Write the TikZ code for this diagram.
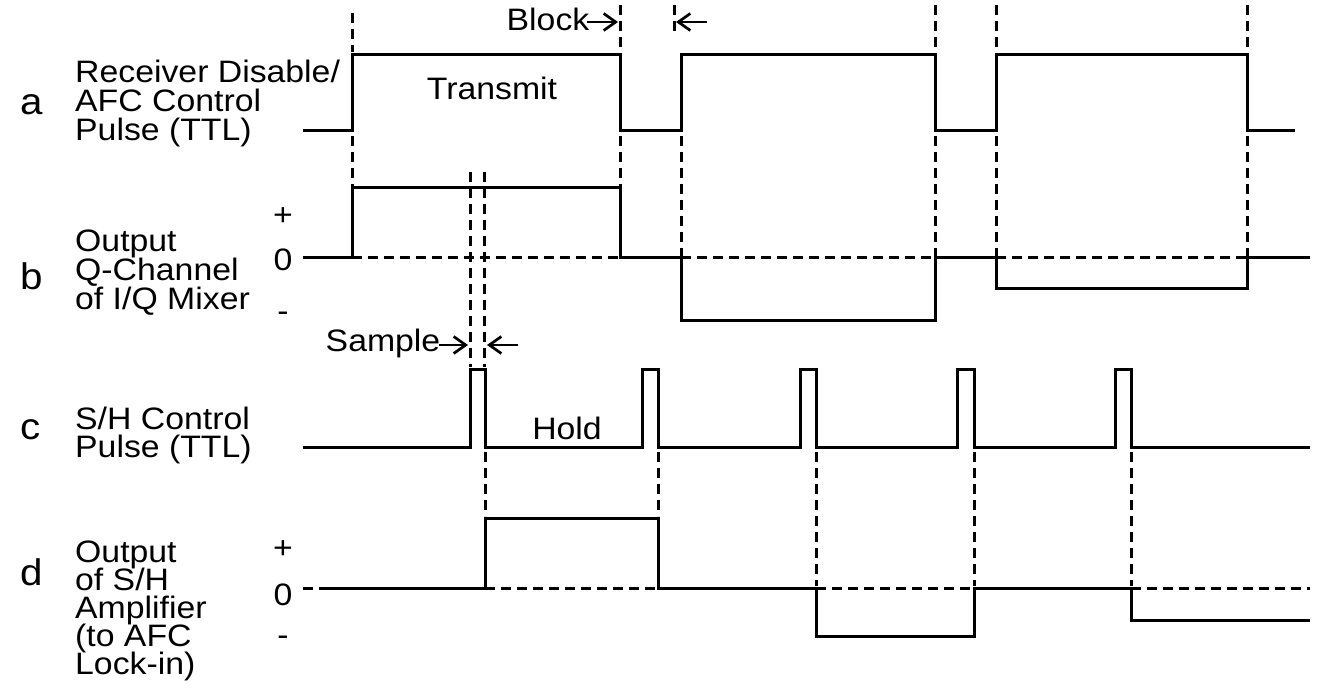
\documentclass[tikz,border=0pt]{standalone}
\usepackage{fontspec}
\setmainfont{Liberation Sans}[FakeStretch=1.09]
\usetikzlibrary{arrows.meta}
\begin{document}
\begin{tikzpicture}[x=1pt,y=-1pt,
  sig/.style={line width=3pt, line join=miter},
  guide/.style={line width=3pt, dash pattern=on 10pt off 6pt},
  lbl/.style={font=\fontsize{31}{31}\selectfont, inner sep=0pt, anchor=base west},
  tag/.style={font=\fontsize{37}{37}\selectfont, inner sep=0pt, anchor=base west},
  sgn/.style={font=\fontsize{31}{31}\selectfont, inner sep=0pt, anchor=base},
  txt/.style={font=\fontsize{31}{31}\selectfont, inner sep=0pt, anchor=base},
  dim/.style={line width=2.7pt, -{Straight Barb[length=12pt,width=17pt]}}]
\useasboundingbox (0,0) rectangle (1327,692);

% ---------- row labels ----------
\node[tag] (ta) at (20,115) {a};
\node[tag] (tb) at (20,290) {b};
\node[tag] (tc) at (20,439) {c};
\node[tag] (td) at (20,585) {d};

\node[lbl] (la1) at (75,83)  {Receiver Disable/};
\node[lbl] (la2) at (75,112) {AFC Control};
\node[lbl] (la3) at (75,141) {Pulse (TTL)};

\node[lbl] (lb1) at (75,252) {Output};
\node[lbl] (lb2) at (75,281) {Q-Channel};
\node[lbl] (lb3) at (75,310) {of I/Q Mixer};

\node[lbl] (lc1) at (75,429) {S/H Control};
\node[lbl] (lc2) at (75,457) {Pulse (TTL)};

\node[lbl] (ld1) at (75,562) {Output};
\node[lbl] (ld2) at (75,590) {of S/H};
\node[lbl] (ld3) at (75,618) {Amplifier};
\node[lbl] (ld4) at (75,646) {(to AFC};
\node[lbl] (ld5) at (75,674) {Lock-in)};

\node[sgn] (bp) at (283,226) {+};
\node[sgn] (bz) at (283,271) {0};
\node[sgn] (bm) at (283,322) {-};
\node[sgn] (dp) at (283,558) {+};
\node[sgn] (dz) at (283,605) {0};
\node[sgn] (dm) at (283,645) {-};

% ---------- in-plot texts ----------
\node[txt] (transmit) at (492,100) {Transmit};
\node[txt] (block) at (548,31) {Block};
\node[txt] (hold) at (567,439) {Hold};
\node[txt] (sample) at (383,352) {Sample};

% ---------- waveforms ----------
\draw[sig] (303,131) -- (352,131) -- (352,55) -- (620,55) -- (620,131) -- (681,131)
  -- (681,55) -- (935,55) -- (935,131) -- (996,131) -- (996,55) -- (1247,55)
  -- (1247,131) -- (1295,131);

\draw[sig] (303,258) -- (352,258) -- (352,188) -- (620,188) -- (620,258) -- (681,258)
  -- (681,321) -- (935,321) -- (935,258) -- (996,258) -- (996,289) -- (1247,289)
  -- (1247,258) -- (1310,258);

\draw[sig] (303,447) -- (470,447) -- (470,369) -- (485,369) -- (485,447) -- (642,447)
  -- (642,369) -- (658,369) -- (658,447) -- (800,447) -- (800,369) -- (816,369)
  -- (816,447) -- (957,447) -- (957,369) -- (974,369) -- (974,447) -- (1115,447)
  -- (1115,369) -- (1131,369) -- (1131,447) -- (1310,447);

\draw[sig] (328,588) -- (485,588) -- (485,518) -- (658,518) -- (658,588) -- (816,588)
  -- (816,636) -- (974,636) -- (974,588) -- (1131,588) -- (1131,620) -- (1310,620);

% ---------- dashed zero lines ----------
\draw[guide] (352,258) -- (620,258);
\draw[guide] (681,258) -- (935,258);
\draw[guide] (996,258) -- (1247,258);
\draw[guide] (303,588) -- (328,588);
\draw[guide] (485,588) -- (658,588);
\draw[guide] (816,588) -- (974,588);
\draw[guide] (1131,588) -- (1310,588);

% ---------- dashed vertical guides ----------
\draw[guide] (352,13) -- (352,52);
\draw[guide] (620,5) -- (620,52);
\draw[guide] (674,5) -- (674,35);
\draw[guide] (935,5) -- (935,52);
\draw[guide] (996,5) -- (996,52);
\draw[guide] (1247,5) -- (1247,52);

\draw[guide] (352,136) -- (352,186);
\draw[guide] (620,136) -- (620,186);
\draw[guide] (681,136) -- (681,256);
\draw[guide] (935,136) -- (935,256);
\draw[guide] (996,136) -- (996,256);
\draw[guide] (1247,136) -- (1247,256);

\draw[guide] (470,172) -- (470,367);
\draw[guide] (484,172) -- (484,367);

\draw[guide] (485,452) -- (485,516);
\draw[guide] (658,452) -- (658,516);
\draw[guide] (816,452) -- (816,586);
\draw[guide] (974,452) -- (974,586);
\draw[guide] (1131,452) -- (1131,586);

% ---------- dimension arrows ----------
\coordinate (bA) at (587,22);
\coordinate (bB) at (618,22);
\coordinate (bC) at (707,22);
\coordinate (bD) at (676,22);
\draw[dim] (bA) -- (bB);
\draw[dim] (bC) -- (bD);

\coordinate (sA) at (439,345);
\coordinate (sB) at (468,345);
\coordinate (sC) at (518,345);
\coordinate (sD) at (487,345);
\draw[dim] (sA) -- (sB);
\draw[dim] (sC) -- (sD);
\end{tikzpicture}
\end{document}
